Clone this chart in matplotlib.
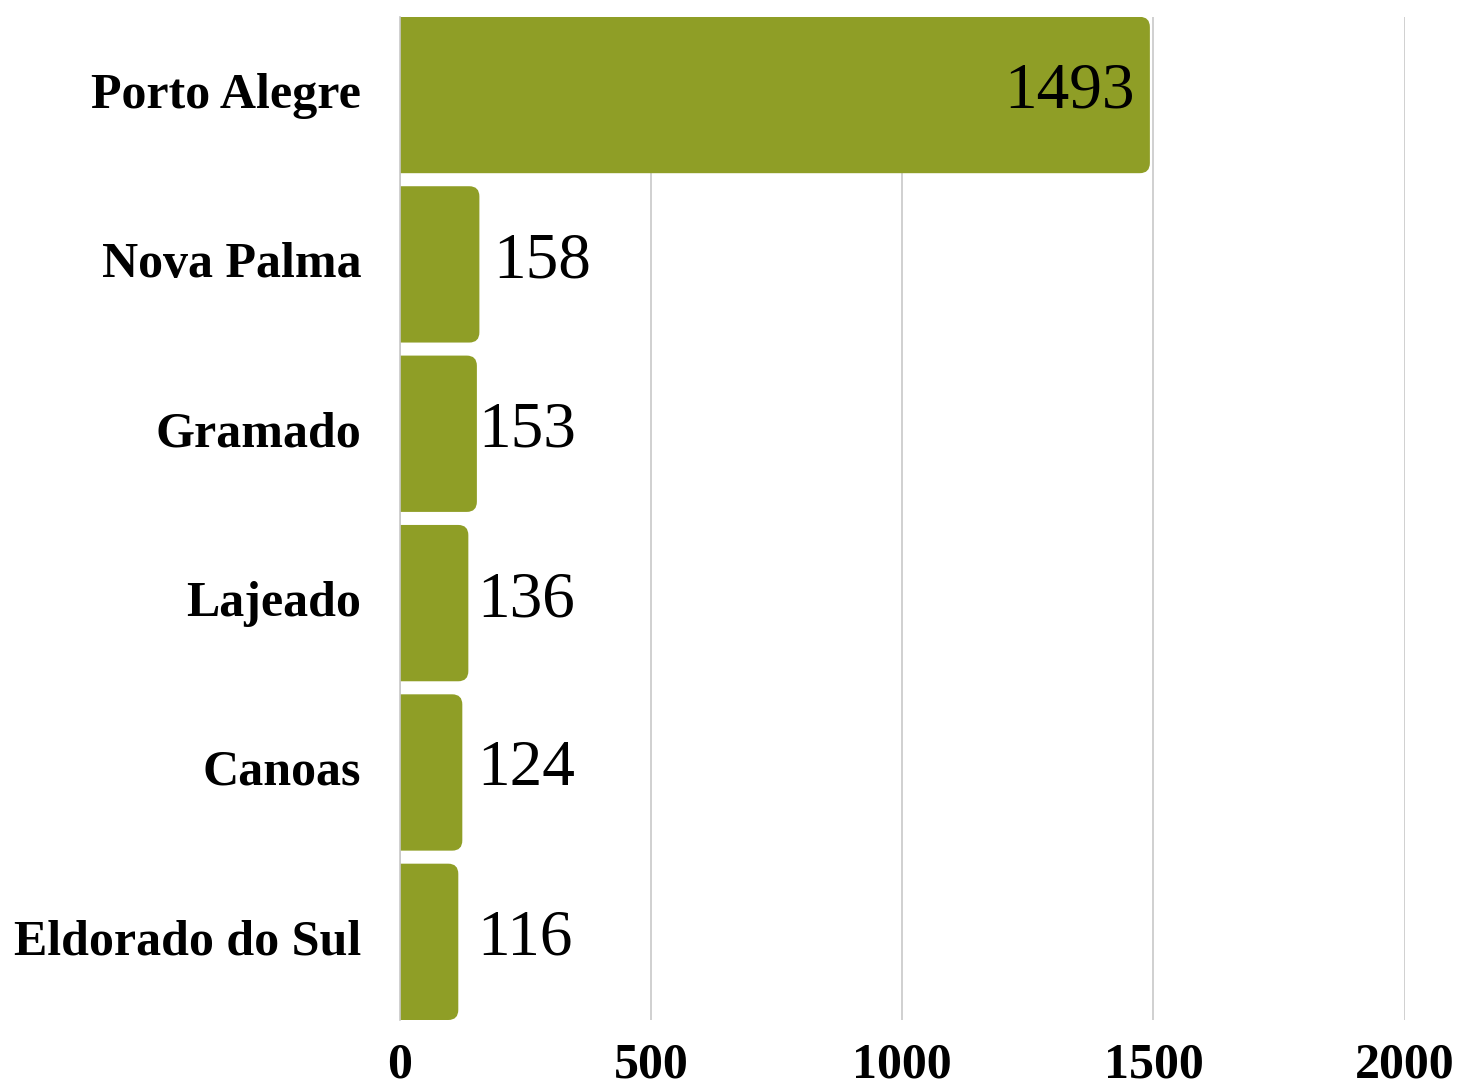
import matplotlib.pyplot as plt
import matplotlib.transforms as mtransforms
from matplotlib.patches import FancyBboxPatch

cidades = ['Porto Alegre', 'Nova Palma', 'Gramado', 'Lajeado', 'Canoas', 'Eldorado do Sul']
valores = [1493, 158, 153, 136, 124, 116]
xticks = [0, 500, 1000, 1500, 2000]

cor = '#8f9e26'
plt.rcParams['font.family'] = ['Liberation Serif', 'DejaVu Serif']

fig = plt.figure(figsize=(14.6, 10.88), dpi=100)
ax = fig.add_axes([0.274, 0.0625, 0.688, 0.922])

altura = 0.923
y = list(range(len(cidades)))[::-1]
bars = ax.barh(y, valores, height=altura, color=cor, alpha=0)

# barras com cantos arredondados (lado direito)
for b in bars:
    x0, y0 = b.get_x(), b.get_y()
    w, h = b.get_width(), b.get_height()
    p = FancyBboxPatch((x0 - 40, y0), w + 40, h,
                       boxstyle='round,pad=0,rounding_size=20',
                       mutation_aspect=0.003, fc=cor, ec='none', zorder=2)
    ax.add_patch(p)

for yi, v in zip(y, valores):
    if v > 1000:
        ax.annotate(str(v), (v, yi), xytext=(-11, 2), textcoords='offset points',
                    ha='right', va='center', fontsize=47, zorder=3)
    else:
        ax.annotate(str(v), (max(v, 150), yi), xytext=(10 if v > 155 else 1, 2),
                    textcoords='offset points', ha='left', va='center',
                    fontsize=47, zorder=3)

ax.set_xlim(0, 2000)
ax.set_ylim(-altura / 2, len(cidades) - 1 + altura / 2)
ax.set_xticks(xticks)
ax.set_yticks(y)
ax.set_yticklabels(cidades)
ax.tick_params(axis='both', length=0, labelsize=36)
ax.tick_params(axis='y', pad=28)
ax.tick_params(axis='x', pad=16)
for lab in ax.get_xticklabels() + ax.get_yticklabels():
    lab.set_fontweight('bold')

# sobe um pouco os rótulos das cidades
desloc = mtransforms.ScaledTranslation(0, 5 / 100, fig.dpi_scale_trans)
for lab in ax.get_yticklabels():
    lab.set_transform(lab.get_transform() + desloc)

ax.grid(axis='x', color='#c8c8c8', linewidth=1.2, zorder=0)
ax.set_axisbelow(True)
for s in ['top', 'right', 'bottom']:
    ax.spines[s].set_visible(False)
ax.spines['left'].set_color('#c8c8c8')
ax.spines['left'].set_linewidth(1.2)

fig.savefig('out.png', dpi=100)
